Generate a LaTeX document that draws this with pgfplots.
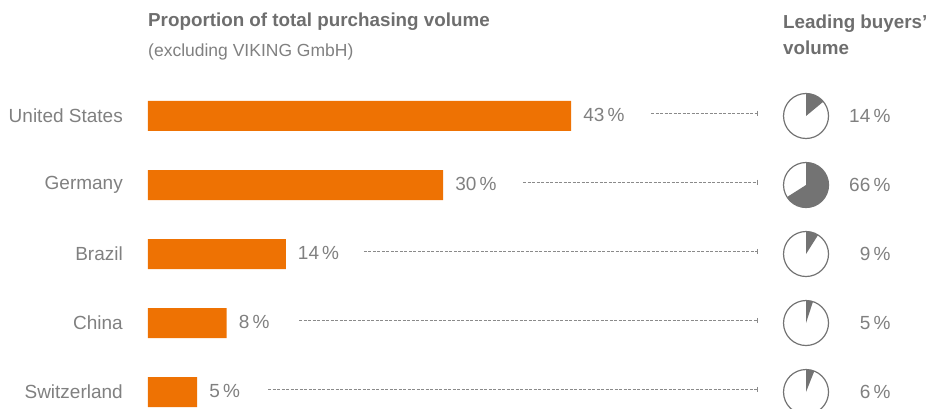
\documentclass[border=0pt]{standalone}
\usepackage{pgfplots}
\pgfplotsset{compat=1.18}
\usepackage{fontspec}
\setmainfont{Liberation Sans}
\definecolor{barorange}{HTML}{EE7203}
\definecolor{txtgray}{HTML}{808080}
\definecolor{headgray}{HTML}{6E6E6E}
\definecolor{piegray}{HTML}{737373}
\definecolor{dashgray}{HTML}{8A8A8A}
\newcommand\lbl{\fontsize{19bp}{22bp}\selectfont}
\newcommand\hdr{\fontsize{18.8bp}{22bp}\selectfont\bfseries}
\pgfdeclareplotmark{pie}{%
  \pgfmathsetmacro\endang{90-3.6*\pct}%
  \pgfpathmoveto{\pgfpointorigin}%
  \pgfpathlineto{\pgfpointpolar{90}{\pgfplotmarksize}}%
  \pgfpatharc{90}{\endang}{\pgfplotmarksize}%
  \pgfpathclose
  \pgfsetfillcolor{piegray}\pgfusepathqfill
  \pgfpathcircle{\pgfpointorigin}{\pgfplotmarksize}%
  \pgfusepathqstroke
}
\pgfplotstableread{
row share lead px
0 43 14 66.87
1 30 66 66.87
2 14 9 66.87
3 8 5 66.87
4 5 6 66.87
}\datatab
\begin{document}
\begin{tikzpicture}
\begin{axis}[
  /pgf/number format/assume math mode=true,
  scale only axis, width=930bp, height=409bp,
  xmin=-15.04, xmax=79.47, ymin=-1.681, ymax=4.246,
  y dir=reverse, clip=false,
  axis line style={draw=none}, tick style={draw=none},
  xtick=\empty, ytick={0,1,2,3,4},
  yticklabels={United States,Germany,Brazil,China,Switzerland},
  yticklabel style={anchor=east, inner sep=0pt, xshift=123bp, text=txtgray, font=\lbl},
]
\addplot[xbar, bar width=30bp, fill=barorange, draw=none,
  point meta=x,
  nodes near coords={\pgfmathprintnumber{\pgfplotspointmeta}\,\%},
  nodes near coords align=horizontal,
  every node near coord/.append style={anchor=west, xshift=12bp, yshift=1bp, text=txtgray, font=\lbl, inner sep=0pt}]
  table[x=share, y=row] {\datatab};
\addplot[dashgray, line width=0.8bp, dash pattern=on 3bp off 1.5bp, mark=|, mark indices={2}, mark size=2.5bp, mark options={solid}] coordinates {(51.12,-0.04) (61.89,-0.04)};
\addplot[dashgray, line width=0.8bp, dash pattern=on 3bp off 1.5bp, mark=|, mark indices={2}, mark size=2.5bp, mark options={solid}] coordinates {(38.11,0.96) (61.89,0.96)};
\addplot[dashgray, line width=0.8bp, dash pattern=on 3bp off 1.5bp, mark=|, mark indices={2}, mark size=2.5bp, mark options={solid}] coordinates {(21.95,1.96) (61.89,1.96)};
\addplot[dashgray, line width=0.8bp, dash pattern=on 3bp off 1.5bp, mark=|, mark indices={2}, mark size=2.5bp, mark options={solid}] coordinates {(15.35,2.96) (61.89,2.96)};
\addplot[dashgray, line width=0.8bp, dash pattern=on 3bp off 1.5bp, mark=|, mark indices={2}, mark size=2.5bp, mark options={solid}] coordinates {(12.20,3.96) (61.89,3.96)};
\addplot[only marks, mark=pie, mark size=22.5bp,
  mark options={draw=piegray, line width=1.2bp},
  visualization depends on={\thisrow{lead} \as \pct},
  point meta=explicit,
  nodes near coords={\pgfmathprintnumber{\pgfplotspointmeta}\,\%},
  every node near coord/.append style={anchor=east, xshift=85bp, yshift=0bp, text=txtgray, font=\lbl, inner sep=0pt}]
  table[x=px, y=row, meta=lead] {\datatab};
\node[anchor=base west, inner sep=0pt, text=headgray, font=\hdr] at (axis cs:0,-1.29) {Proportion of total purchasing volume};
\node[anchor=base west, inner sep=0pt, text=txtgray, font=\fontsize{17.5bp}{20bp}\selectfont] at (axis cs:0,-0.855) {(excluding VIKING GmbH)};
\node[anchor=base west, inner sep=0pt, text=headgray, font=\hdr] at (axis cs:64.53,-1.275) {Leading buyers’};
\node[anchor=base west, inner sep=0pt, text=headgray, font=\hdr] at (axis cs:64.53,-0.884) {volume};
\coordinate (SW) at (rel axis cs:0,0);
\coordinate (NE) at (rel axis cs:1,1);
\end{axis}
\pgfresetboundingbox
\useasboundingbox (SW) rectangle (NE);
\end{tikzpicture}
\end{document}
